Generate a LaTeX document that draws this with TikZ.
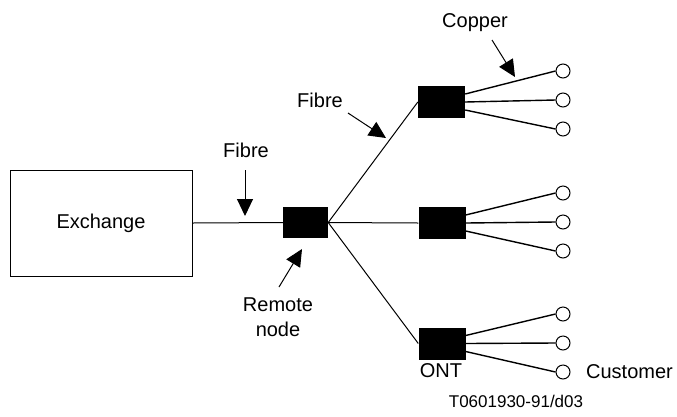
\documentclass[tikz,border=0pt]{standalone}
\usepackage{fontspec}
\setmainfont{Liberation Sans}
\usetikzlibrary{arrows.meta}
\tikzset{every node/.style={font=\fontsize{20}{25}\selectfont},
  fibre/.style={line width=1pt},copper/.style={line width=1.4pt},
  pointer/.style={line width=1pt,-{Triangle[length=17pt,width=16pt]}},
  ont/.style={fill=black,minimum width=47pt,minimum height=32pt,inner sep=0pt},
  cust/.style={draw,circle,fill=white,minimum size=14pt,inner sep=0pt,line width=1pt}}

\begin{document}
\begin{tikzpicture}[x=1pt,y=-1pt]
\useasboundingbox (0,0) rectangle (677,416);
\node[draw,line width=1pt,minimum width=182pt,minimum height=106pt] (exch) at (101,223){Exchange};
\node[ont,minimum width=45pt,minimum height=31pt] (rn) at (305.5,222.5){};
\node[ont] (ontA) at (441.5,102){};\node[ont] (ontB) at (442,223){};\node[ont] (ontC) at (442,343.5){};
\draw[fibre] (exch.east)--(rn.west);
\foreach \o in {ontA,ontB,ontC} \draw[fibre] (rn.east)--(\o.west);
% customers
\foreach \o/\y in {ontA/100,ontB/222,ontC/343}{
  \node[cust] (\o1) at (563,\y-29){};\node[cust] (\o2) at (563,\y){};\node[cust] (\o3) at (563,\y+29){};
  \draw[copper] ([yshift=8pt]\o.east)--(\o1.west);\draw[copper] (\o.east)--(\o2.west);
  \draw[copper] ([yshift=-8pt]\o.east)--(\o3.west);}
% labels and pointers
\node[anchor=base] (fibA) at (246,157){Fibre};
\coordinate (fibAt) at (245,170);\coordinate (fibAh) at (245,216);\draw[pointer] (fibAt)--(fibAh);
\node[align=center] (rnl) at (278,317){Remote\\node};
\coordinate (rnt) at (279,287);\coordinate (rnh) at (302,249);\draw[pointer] (rnt)--(rnh);
\node[anchor=base] (fibB) at (320,107){Fibre};
\coordinate (fibBt) at (348,113);\coordinate (fibBh) at (386,138);\draw[pointer] (fibBt)--(fibBh);
\node[anchor=base] (cop) at (475,27){Copper};
\coordinate (copt) at (492,40);\coordinate (coph) at (515,77);\draw[pointer] (copt)--(coph);
\node[anchor=base] (ontl) at (441,377){ONT};
\node[anchor=base] (custl) at (629.5,378){Customer};
\node[anchor=base,font=\fontsize{17}{20}\selectfont] (ref) at (516,407){T0601930-91/d03};
\end{tikzpicture}
\end{document}
